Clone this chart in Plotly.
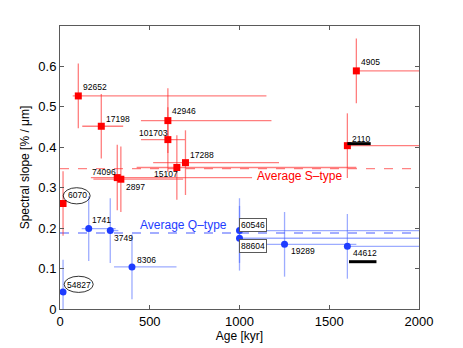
import plotly.graph_objects as go

# S-type asteroids (red squares)
s_names = ['92652', '17198', '42946', '101703', '17288', '15107', '74096', '2897', '6070', '4905', '2110']
s_age = [102, 230, 601, 601, 699, 651, 319, 339, 17, 1651, 1601]
s_age_minus = [31, 106, 150, 150, 180, 224, 147, 153, 0, 0, 0]
s_age_plus = [1048, 122, 577, 95, 521, 1000, 751, 347, 0, 500, 500]
s_slope = [0.527, 0.452, 0.466, 0.419, 0.362, 0.350, 0.325, 0.321, 0.261, 0.589, 0.404]
s_slope_err = [0.08, 0.08, 0.08, 0.08, 0.08, 0.08, 0.081, 0.081, 0.08, 0.08, 0.08]

# Q-type asteroids (blue circles)
q_names = ['54827', '1741', '3749', '8306', '60546', '88604', '19289', '44612']
q_age = [17, 160, 280, 401, 1000, 1000, 1251, 1601]
q_age_minus = [0, 39, 17, 100, 0, 0, 100, 0]
q_age_plus = [0, 150, 45, 248, 1500, 1500, 400, 500]
q_slope = [0.042, 0.199, 0.194, 0.104, 0.194, 0.175, 0.160, 0.155]
q_slope_err = [0.08, 0.08, 0.08, 0.08, 0.08, 0.08, 0.08, 0.08]

avg_s = 0.347
avg_q = 0.188

# label positions (left edge, middle)
s_lab_x = [115, 247, 612, 430, 714, 510, 167, 358, 32, 1664, 1614]
s_lab_y = [0.549, 0.471, 0.490, 0.436, 0.380, 0.335, 0.340, 0.302, 0.281, 0.611, 0.420]
q_lab_x = [30, 167, 291, 417, 1013, 1013, 1273, 1623]
q_lab_y = [0.060, 0.220, 0.175, 0.120, 0.209, 0.157, 0.144, 0.138]
boxed = ['60546', '88604']
circled = {'6070': (93, 0.280, 75, 0.02), '54827': (104, 0.061, 81, 0.02)}

black_bars = [([1601, 1731], 0.409), ([1610, 1763], 0.117)]

red = 'rgb(255,0,0)'
blue = 'rgb(30,60,255)'

fig = go.Figure()

fig.add_trace(go.Scatter(x=[0, 2000], y=[avg_s, avg_s], mode='lines',
                         line=dict(color='rgba(255,80,80,0.7)', width=1.3, dash='dash'),
                         hoverinfo='skip'))
fig.add_trace(go.Scatter(x=[0, 2000], y=[avg_q, avg_q], mode='lines',
                         line=dict(color='rgba(80,100,255,0.7)', width=1.3, dash='dash'),
                         hoverinfo='skip'))

fig.add_trace(go.Scatter(
    x=s_age, y=s_slope, mode='markers', text=s_names,
    marker=dict(symbol='square', size=7, color=red),
    error_x=dict(type='data', symmetric=False, array=s_age_plus, arrayminus=s_age_minus,
                 color='rgba(255,40,40,0.6)', thickness=1.3, width=0),
    error_y=dict(type='data', array=s_slope_err, color='rgba(255,40,40,0.6)', thickness=1.3, width=0),
))
fig.add_trace(go.Scatter(
    x=q_age, y=q_slope, mode='markers', text=q_names,
    marker=dict(symbol='circle', size=7, color=blue),
    error_x=dict(type='data', symmetric=False, array=q_age_plus, arrayminus=q_age_minus,
                 color='rgba(60,90,255,0.5)', thickness=1.3, width=0),
    error_y=dict(type='data', array=q_slope_err, color='rgba(60,90,255,0.5)', thickness=1.3, width=0),
))

for xs, yv in black_bars:
    fig.add_trace(go.Scatter(x=xs, y=[yv, yv], mode='lines',
                             line=dict(color='black', width=3), hoverinfo='skip'))

for names, lx, ly in [(s_names, s_lab_x, s_lab_y), (q_names, q_lab_x, q_lab_y)]:
    for n, x, y in zip(names, lx, ly):
        ann = dict(x=x, y=y, text=n, showarrow=False, xanchor='left', yanchor='middle',
                   font=dict(size=8.5, color='black'))
        if n in boxed:
            ann.update(bordercolor='rgb(90,90,90)', borderwidth=1, borderpad=1,
                       bgcolor='white', xshift=-3)
        fig.add_annotation(**ann)

for n, (cx, cy, rx, ry) in circled.items():
    fig.add_shape(type='circle', xref='x', yref='y', x0=cx - rx, x1=cx + rx,
                  y0=cy - ry, y1=cy + ry, line=dict(color='black', width=0.8))

fig.add_annotation(x=1580, y=avg_s - 0.018, text='Average S\u2013type', showarrow=False,
                   xanchor='right', yanchor='middle', font=dict(size=12, color=red))
fig.add_annotation(x=940, y=avg_q + 0.02, text='Average Q\u2013type', showarrow=False,
                   xanchor='right', yanchor='middle', font=dict(size=12, color=blue))

axis_common = dict(showline=True, mirror='ticks', linecolor='rgb(90,90,90)', linewidth=1,
                   ticks='inside', ticklen=4, tickcolor='rgb(90,90,90)', showgrid=False,
                   zeroline=False, automargin=False, tickfont=dict(size=13, color='black'))
fig.update_xaxes(range=[0, 2000], tickvals=[0, 500, 1000, 1500, 2000],
                 title=dict(text='Age [kyr]', font=dict(size=12, color='black'), standoff=4),
                 **axis_common)
fig.update_yaxes(range=[0, 0.7], tickvals=[0, 0.1, 0.2, 0.3, 0.4, 0.5, 0.6],
                 title=dict(text='Spectral slope [% / \u03bcm]', font=dict(size=12, color='black'), standoff=6),
                 **axis_common)

# the page body adds an 8px offset, so the figure is sized to leave room for it
fig.update_layout(width=455, height=340, showlegend=False,
                  margin=dict(l=52, r=44, t=18, b=39),
                  plot_bgcolor='white', paper_bgcolor='white',
                  font=dict(family='Liberation Sans, Arial, sans-serif'))

fig.write_html('out.html')
